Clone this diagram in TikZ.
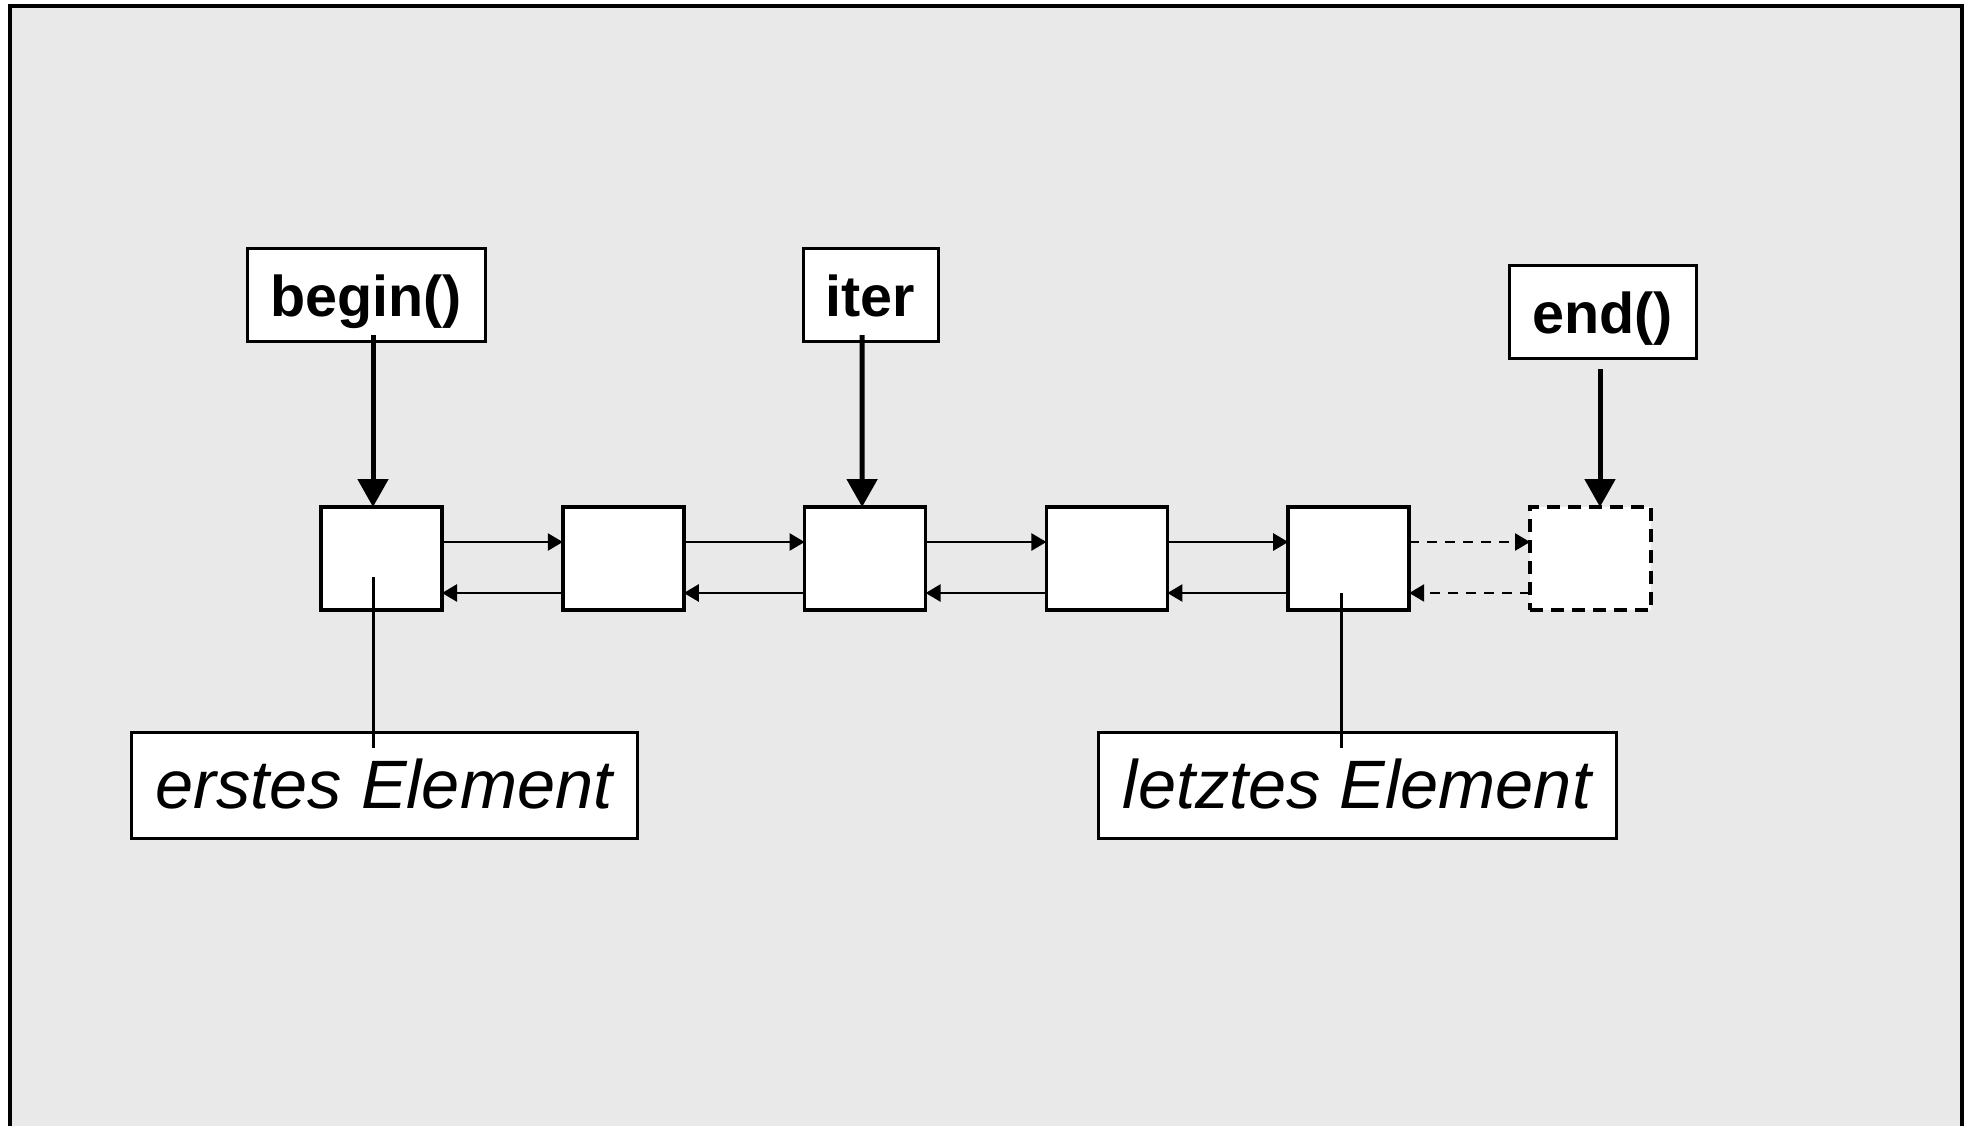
\documentclass[tikz,border=0pt]{standalone}
\usepackage{fontspec}
\setmainfont{Liberation Sans}
\usetikzlibrary{arrows.meta}
\definecolor{bgc}{RGB}{233,233,233}
\begin{document}
\begin{tikzpicture}[x=1pt,y=-1pt,
  elem/.style={draw,fill=white,line width=3.5pt,minimum width=121pt,minimum height=103pt,inner sep=0pt,outer sep=0pt},
  ghost/.style={elem,dash pattern=on 13pt off 8pt},
  ptr/.style={draw,fill=white,line width=3pt,minimum height=93pt,inner sep=0pt,outer sep=0pt,font=\fontsize{57.5}{60}\selectfont\bfseries,text height=44pt,text depth=0pt},
  lbl/.style={draw,fill=white,line width=3pt,minimum height=106pt,inner sep=0pt,outer sep=0pt,font=\fontsize{68.5}{72}\selectfont\itshape,text height=46pt,text depth=0pt},
  nxt/.style={line width=2.6pt,-{Triangle[length=15pt,width=17pt]}},
  nxtd/.style={nxt,dash pattern=on 10pt off 8pt},
  bigarr/.style={line width=5pt,-{Triangle[length=28pt,width=30pt]}},
  tie/.style={line width=3pt}]
\useasboundingbox (0,0) rectangle (1964,1125);
\draw[line width=3.5pt,fill=bgc] (10,6) rectangle (1962,1145);

\foreach \i in {1,...,5}{
  \node[elem] (e\i) at ({381.5+241.8*(\i-1)},558.5) {};
}
\node[ghost] (e6) at ({381.5+241.8*5},558.5) {};

\node[ptr,minimum width=238pt] (begin) at (366,294.5) {begin()};
\node[ptr,minimum width=135pt] (iter) at (870.5,294.5) {iter};
\node[ptr,minimum width=187pt] (end) at (1602.5,311.5) {end()};

\node[lbl,minimum width=506pt] (first) at (384,785) {erstes Element};
\node[lbl,minimum width=518pt] (last) at (1357,785) {letztes Element};

\foreach \a/\b in {1/2,2/3,3/4,4/5}{
  \draw[nxt] ([yshift=16.5pt]e\a.east) -- ([yshift=16.5pt]e\b.west);
  \draw[nxt] ([yshift=-34.5pt]e\b.west) -- ([yshift=-34.5pt]e\a.east);
}
\draw[nxtd] ([yshift=16.5pt]e5.east) -- ([yshift=16.5pt]e6.west);
\draw[nxtd] ([yshift=-34.5pt]e6.west) -- ([yshift=-34.5pt]e5.east);

\draw[bigarr] ([xshift=7pt,yshift=6pt]begin.south) -- ([xshift=-8.5pt]e1.north);
\draw[bigarr] ([xshift=-8.5pt,yshift=6pt]iter.south) -- ([xshift=-3pt]e3.north);
\draw[bigarr] ([xshift=-2.5pt,yshift=-11pt]end.south) -- ([xshift=9.5pt]e6.north);

\draw[tie] ([xshift=-8.5pt,yshift=-18.5pt]e1.center) -- ([xshift=-11pt,yshift=-16pt]first.north);
\draw[tie] ([xshift=-7.7pt,yshift=-34.5pt]e5.center) -- ([xshift=-16pt,yshift=-16pt]last.north);
\end{tikzpicture}
\end{document}
